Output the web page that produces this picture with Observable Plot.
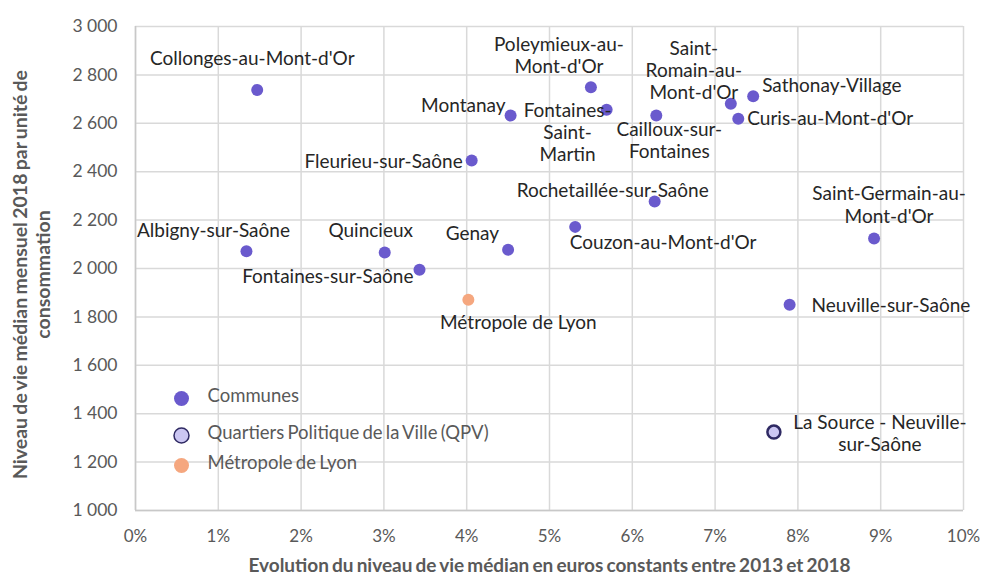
<!DOCTYPE html>
<html>
<head>
<meta charset="utf-8">
<script src="https://cdn.jsdelivr.net/npm/d3@7"></script>
<script src="https://cdn.jsdelivr.net/npm/@observablehq/plot@0.6"></script>
<style>
  html, body { margin: 0; padding: 0; background: #fff; }
  #chart { width: 984px; height: 574px; }
  .tight text { word-spacing: -1.5px; }
</style>
</head>
<body>
<div id="chart"></div>
<script>
// ---- Data ----
const names = [
  "Collonges-au-Mont-d'Or", "Fleurieu-sur-Saône", "Albigny-sur-Saône", "Quincieux",
  "Fontaines-sur-Saône", "Genay", "Montanay", "Poleymieux-au-Mont-d'Or",
  "Fontaines-Saint-Martin", "Cailloux-sur-Fontaines", "Saint-Romain-au-Mont-d'Or",
  "Sathonay-Village", "Curis-au-Mont-d'Or", "Rochetaillée-sur-Saône",
  "Couzon-au-Mont-d'Or", "Saint-Germain-au-Mont-d'Or", "Neuville-sur-Saône",
  "La Source - Neuville-sur-Saône", "Métropole de Lyon"
];
const labels = [
  "Collonges-au-Mont-d'Or", "Fleurieu-sur-Saône", "Albigny-sur-Saône", "Quincieux",
  "Fontaines-sur-Saône", "Genay", "Montanay", "Poleymieux-au-\nMont-d'Or",
  "Fontaines-\nSaint-\nMartin", "Cailloux-sur-\nFontaines", "Saint-\nRomain-au-\nMont-d'Or",
  "Sathonay-Village", "Curis-au-Mont-d'Or", "Rochetaillée-sur-Saône",
  "Couzon-au-Mont-d'Or", "Saint-Germain-au-\nMont-d'Or", "Neuville-sur-Saône",
  "La Source - Neuville-\nsur-Saône", "Métropole de Lyon"
];
const evolution = [ // % change 2013-2018 (constant euros)
  1.47, 4.06, 1.34, 3.01,
  3.43, 4.50, 4.53, 5.50,
  5.69, 6.29, 7.19,
  7.46, 7.28, 6.27,
  5.31, 8.92, 7.90,
  7.71, 4.02
];
const niveau = [ // median monthly standard of living 2018 (€)
  2738, 2446, 2071, 2066,
  1995, 2077, 2632, 2749,
  2656, 2632, 2681,
  2712, 2619, 2277,
  2172, 2124, 1850,
  1324, 1871
];
const types = [
  "Communes", "Communes", "Communes", "Communes",
  "Communes", "Communes", "Communes", "Communes",
  "Communes", "Communes", "Communes",
  "Communes", "Communes", "Communes",
  "Communes", "Communes", "Communes",
  "Quartiers Politique de la Ville (QPV)", "Métropole de Lyon"
];
const legendItems = ["Communes", "Quartiers Politique de la Ville (QPV)", "Métropole de Lyon"];
const yTicks = [1000, 1200, 1400, 1600, 1800, 2000, 2200, 2400, 2600, 2800, 3000];
const xTicks = [0, 0.01, 0.02, 0.03, 0.04, 0.05, 0.06, 0.07, 0.08, 0.09, 0.10];
const xTitle = "Evolution du niveau de vie médian en euros constants entre 2013 et 2018";
const yTitle = "Niveau de vie médian mensuel 2018 par unité de\nconsommation";

// ---- Styles ----
const fill = {
  "Communes": "#6a5acd",
  "Quartiers Politique de la Ville (QPV)": "#cbc6f2",
  "Métropole de Lyon": "#f5a77f"
};
const stroke = {
  "Communes": "none",
  "Quartiers Politique de la Ville (QPV)": "#2f2a63",
  "Métropole de Lyon": "none"
};
const radius = {
  "Communes": 6,
  "Quartiers Politique de la Ville (QPV)": 6.5,
  "Métropole de Lyon": 6
};
// label placement: [textAnchor, dx, dy]
const place = {
  "Collonges-au-Mont-d'Or": ["middle", -5, -32],
  "Fleurieu-sur-Saône": ["end", -9, 0],
  "Albigny-sur-Saône": ["middle", -33, -21],
  "Quincieux": ["middle", -14, -23],
  "Fontaines-sur-Saône": ["end", -6, 6],
  "Genay": ["end", -9, -17],
  "Montanay": ["end", -5, -11],
  "Poleymieux-au-Mont-d'Or": ["middle", -32, -32],
  "Fontaines-Saint-Martin": ["middle", -39, 22],
  "Cailloux-sur-Fontaines": ["middle", 13, 24],
  "Saint-Romain-au-Mont-d'Or": ["middle", -37, -34],
  "Sathonay-Village": ["start", 9, -11],
  "Curis-au-Mont-d'Or": ["start", 9, -1],
  "Rochetaillée-sur-Saône": ["middle", -42, -12],
  "Couzon-au-Mont-d'Or": ["middle", 88, 15],
  "Saint-Germain-au-Mont-d'Or": ["middle", 15, -34],
  "Neuville-sur-Saône": ["start", 22, 0],
  "La Source - Neuville-sur-Saône": ["middle", 106, 1],
  "Métropole de Lyon": ["middle", 50, 22]
};

const data = names.map((n, i) => ({
  name: n, label: labels[i], x: evolution[i] / 100, y: niveau[i], type: types[i]
}));

const FONT = "Lato, 'Open Sans', sans-serif";
const gray = "#595959";
const fmtY = d => d3.format(",")(d).replace(",", " ");

const dotMarks = legendItems.map(t => Plot.dot(data.filter(d => d.type === t), {
  x: "x", y: "y", r: radius[t], fill: fill[t], stroke: stroke[t], strokeWidth: 2.5
}));

const labelMarks = data.map(d => {
  const [anchor, dx, dy] = place[d.name];
  return Plot.text([d], {
    x: "x", y: "y", text: "label", textAnchor: anchor, dx, dy,
    fontSize: 19, lineHeight: 1.17, fill: "#262626"
  });
});

const legendY = [-112, -75, -45];
const legendMarks = legendItems.flatMap((t, i) => [
  Plot.dot([t], {
    frameAnchor: "bottom-left", dx: 46, dy: legendY[i], r: 7.5,
    fill: fill[t], stroke: stroke[t], strokeWidth: 1.5
  }),
  Plot.text([t], {
    frameAnchor: "bottom-left", dx: 72, dy: legendY[i] + 3.5, text: d => d,
    textAnchor: "start", fontSize: 18.5, fill: gray, className: "tight"
  })
]);

const chart = Plot.plot({
  width: 984,
  height: 574,
  marginLeft: 135,
  marginRight: 21,
  marginTop: 26,
  marginBottom: 64,
  style: { fontFamily: FONT, background: "#fff", overflow: "visible" },
  x: { domain: [0, 0.10], ticks: xTicks, tickFormat: d3.format(".0%"), label: null },
  y: { domain: [1000, 3000], ticks: yTicks, tickFormat: fmtY, label: null },
  marks: [
    Plot.gridX(xTicks, { stroke: "#d9d9d9", strokeOpacity: 1, strokeWidth: 1.5 }),
    Plot.gridY(yTicks, { stroke: "#d9d9d9", strokeOpacity: 1, strokeWidth: 1.5 }),
    Plot.ruleX([0], { stroke: "#c8c8c8", strokeWidth: 1.5 }),
    Plot.ruleY([1000], { stroke: "#c8c8c8", strokeWidth: 1.5 }),
    Plot.axisX(xTicks, { tickSize: 0, tickPadding: 19, fontSize: 17, fill: gray, tickFormat: d3.format(".0%") }),
    Plot.axisY(yTicks, { tickSize: 0, tickPadding: 18, fontSize: 17.5, fill: gray, tickFormat: fmtY }),
    Plot.text([xTitle], { frameAnchor: "bottom", dy: 61, text: d => d, fontSize: 19, fontWeight: "bold", fill: gray, className: "tight" }),
    Plot.text([yTitle], { frameAnchor: "left", textAnchor: "middle", dx: -104, dy: 6, text: d => d, rotate: -90, fontSize: 19.5, fontWeight: "bold", fill: gray, lineHeight: 1.17, className: "tight" }),
    ...dotMarks,
    ...labelMarks,
    ...legendMarks
  ]
});
document.getElementById("chart").appendChild(chart);
</script>
</body>
</html>
